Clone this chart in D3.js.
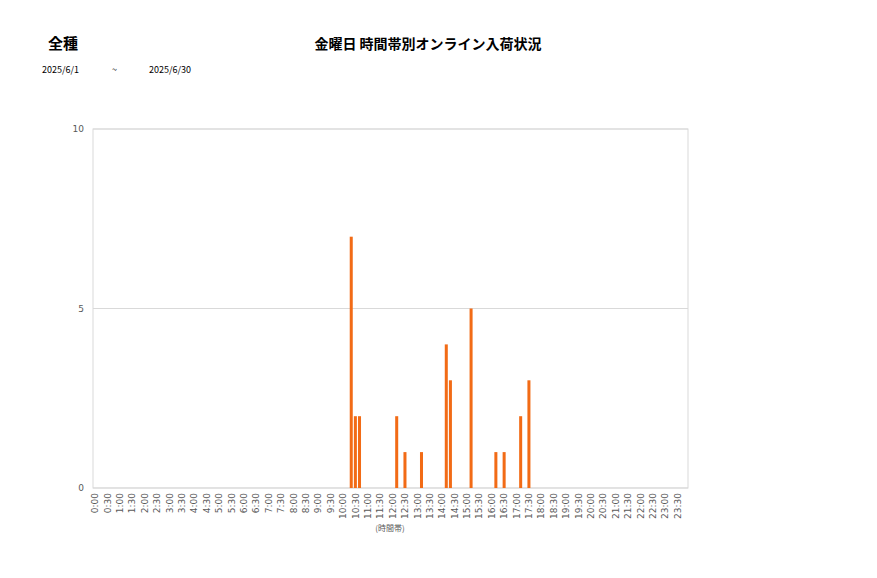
<!DOCTYPE html>
<html>
<head>
<meta charset="utf-8">
<script src="https://cdn.jsdelivr.net/npm/d3@7"></script>
<style>
  body { margin: 0; background: #fff; }
  svg { font-family: "Noto Sans CJK JP", "DejaVu Sans", sans-serif; }
</style>
</head>
<body>
<svg id="chart" width="877" height="578"></svg>
<script>
// title texts
const kind = "全種";
const title = "金曜日 時間帯別オンライン入荷状況";
const dateFrom = "2025/6/1";
const dateTo = "2025/6/30";
const xTitle = "(時間帯)";

// counts per 10-minute slot, 0:00 .. 23:50 (144 slots)
const counts = [
    0, 0, 0, 0, 0, 0,  0, 0, 0, 0, 0, 0,  0, 0, 0, 0, 0, 0,   // 0-2h
    0, 0, 0, 0, 0, 0,  0, 0, 0, 0, 0, 0,  0, 0, 0, 0, 0, 0,   // 3-5h
    0, 0, 0, 0, 0, 0,  0, 0, 0, 0, 0, 0,  0, 0, 0, 0, 0, 0,   // 6-8h
    0, 0, 0, 0, 0, 0,  0, 0, 7, 2, 2, 0,  0, 0, 0, 0, 0, 0,   // 9-11h
    0, 2, 0, 1, 0, 0,  0, 1, 0, 0, 0, 0,  0, 4, 3, 0, 0, 0,   // 12-14h
    0, 5, 0, 0, 0, 0,  0, 1, 0, 1, 0, 0,  0, 2, 0, 3, 0, 0,   // 15-17h
    0, 0, 0, 0, 0, 0,  0, 0, 0, 0, 0, 0,  0, 0, 0, 0, 0, 0,   // 18-20h
    0, 0, 0, 0, 0, 0,  0, 0, 0, 0, 0, 0,  0, 0, 0, 0, 0, 0    // 21-23h
];

// half-hour tick labels
const tickLabels = [
    "0:00", "0:30", "1:00", "1:30", "2:00", "2:30", "3:00", "3:30",
    "4:00", "4:30", "5:00", "5:30", "6:00", "6:30", "7:00", "7:30",
    "8:00", "8:30", "9:00", "9:30", "10:00", "10:30", "11:00", "11:30",
    "12:00", "12:30", "13:00", "13:30", "14:00", "14:30", "15:00", "15:30",
    "16:00", "16:30", "17:00", "17:30", "18:00", "18:30", "19:00", "19:30",
    "20:00", "20:30", "21:00", "21:30", "22:00", "22:30", "23:00", "23:30"
];
const yTicks = [0, 5, 10];

const slots = counts.map((c, i) => Math.floor(i / 6) + ":" + String((i % 6) * 10).padStart(2, "0"));
const data = slots.map((s, i) => ({ slot: s, value: counts[i] }));

const svg = d3.select("#chart");
const margin = { top: 129, left: 93, right: 189, bottom: 90 };
const width = 877 - margin.left - margin.right;
const height = 578 - margin.top - margin.bottom;

svg.append("text")
    .attr("x", 48).attr("y", 49)
    .attr("font-size", 15).attr("font-weight", "bold")
    .text(kind);

svg.append("text")
    .attr("x", 428).attr("y", 49)
    .attr("text-anchor", "middle")
    .attr("font-size", 14).attr("font-weight", "bold")
    .text(title);

svg.append("text").attr("x", 42).attr("y", 73).attr("font-size", 9).text(dateFrom);
svg.append("text").attr("x", 112).attr("y", 73).attr("font-size", 9).text("~");
svg.append("text").attr("x", 149).attr("y", 73).attr("font-size", 9).text(dateTo);

const x = d3.scaleBand().domain(slots).range([0, width]).paddingInner(0.27).paddingOuter(0.13);
const y = d3.scaleLinear().domain([0, 10]).range([height, 0]);

const g = svg.append("g").attr("transform", `translate(${margin.left},${margin.top})`);

// gridlines
g.selectAll(".grid")
    .data(yTicks)
    .enter().append("line")
    .attr("x1", 0).attr("x2", width)
    .attr("y1", d => y(d)).attr("y2", d => y(d))
    .attr("stroke", "#d9d9d9");

g.append("rect")
    .attr("width", width).attr("height", height)
    .attr("fill", "none").attr("stroke", "#d9d9d9");

g.selectAll(".bar")
    .data(data.filter(d => d.value > 0))
    .enter().append("rect")
    .attr("x", d => x(d.slot))
    .attr("y", d => y(d.value))
    .attr("width", x.bandwidth())
    .attr("height", d => height - y(d.value))
    .attr("fill", "#f26b16");

// y axis
const yAxis = g.append("g")
    .call(d3.axisLeft(y).tickValues(yTicks).tickSize(0).tickPadding(9).tickFormat(d3.format("d")));
yAxis.select(".domain").remove();
yAxis.selectAll("text").attr("font-size", 9).attr("fill", "#595959")
    .attr("font-family", "'DejaVu Sans', sans-serif");

// x axis: labels every third slot
const xAxis = g.append("g")
    .attr("transform", `translate(0,${height})`)
    .call(d3.axisBottom(x).tickValues(tickLabels).tickSize(0));
xAxis.select(".domain").remove();
xAxis.selectAll("text")
    .attr("font-size", 9).attr("fill", "#595959")
    .attr("font-family", "'DejaVu Sans', sans-serif")
    .attr("transform", "rotate(-90)")
    .attr("text-anchor", "end")
    .attr("x", -5).attr("y", 0).attr("dy", "0.35em");

svg.append("text")
    .attr("x", margin.left + 297).attr("y", 531)
    .attr("text-anchor", "middle")
    .attr("font-size", 8).attr("fill", "#595959")
    .text(xTitle);
</script>
</body>
</html>
